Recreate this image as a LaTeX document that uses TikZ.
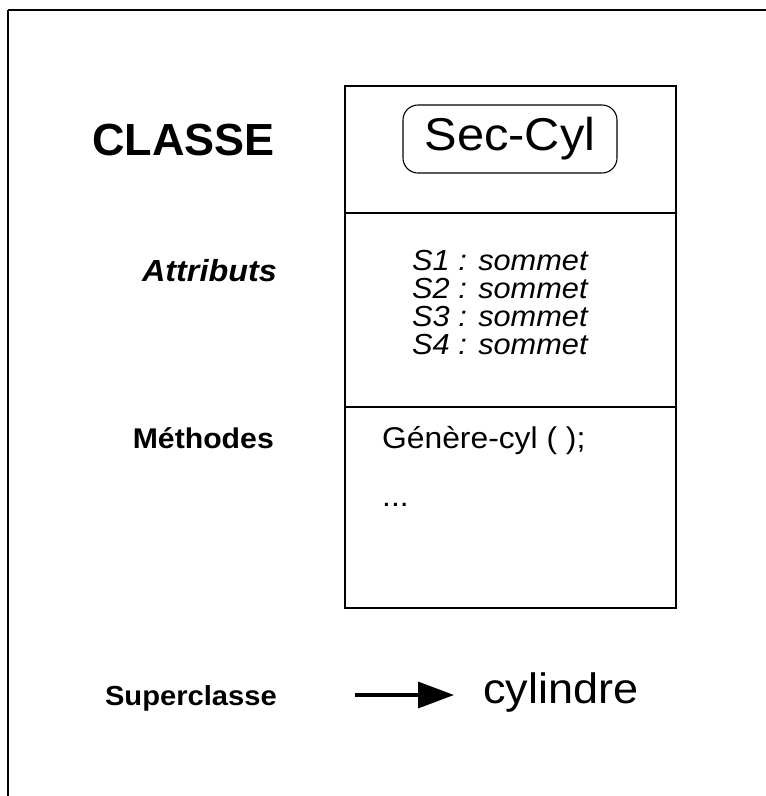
\documentclass[tikz,border=0pt]{standalone}
\usepackage{fontspec}
\setmainfont{Liberation Sans}
\newfontfamily\widesans[FakeStretch=1.06]{Liberation Sans}
\usetikzlibrary{arrows.meta}
\begin{document}
\begin{tikzpicture}[x=1pt,y=-1pt,
  rule/.style={line width=1.1pt},
  leftlabel/.style={inner sep=0pt, anchor=base east, font=\widesans\bfseries\fontsize{28.5}{32}\selectfont},
  member/.style={inner sep=0pt, anchor=base west, font=\widesans\fontsize{30}{34}\selectfont},
  attr/.style={inner sep=0pt, anchor=base west, font=\widesans\itshape\fontsize{29}{32}\selectfont},
  bigname/.style={inner sep=0pt, font=\widesans\fontsize{42.5}{48}\selectfont}]
\useasboundingbox (0,0) rectangle (766,796);
\fill[white] (0,0) rectangle (766,796);

% outer frame (only top and left edges inside the page)
\draw[rule] (8,10) -- (766,10);
\draw[rule] (8,10) -- (8,796);

% class box with its three compartments
\draw[rule] (345,86) rectangle (676,608);
\draw[rule] (345,213) -- (676,213);
\draw[rule] (345,407) -- (676,407);

% class name
\node[inner sep=0pt, anchor=base east, font=\bfseries\fontsize{45}{54}\selectfont] (classe) at (275,155) {CLASSE};
\node[rule, draw, rounded corners=15pt, minimum width=214pt, minimum height=68pt, inner sep=0pt] (nom) at (510,139) {};
\node[bigname, font=\widesans\fontsize{46}{52}\selectfont] (nomtxt) at (nom.center) {Sec-Cyl};

% attributes
\node[leftlabel, font=\widesans\bfseries\itshape\fontsize{30.5}{34}\selectfont] (attributs) at (277,281) {Attributs};
\node[attr] (s1) at (412,270) {S1 : sommet};
\node[attr] (s2) at (412,298) {S2 : sommet};
\node[attr] (s3) at (412,326) {S3 : sommet};
\node[attr] (s4) at (412,354) {S4 : sommet};

% methods
\node[leftlabel] (methodes) at (274,448) {Méthodes};
\node[member] (genere) at (382,448) {Génère-cyl ( );};
\node[member] (suite) at (382,506) {...};

% superclass
\node[leftlabel, font=\widesans\bfseries\fontsize{27.5}{32}\selectfont] (superclasse) at (277,705) {Superclasse};
\node[bigname, anchor=base west] (cylindre) at (483,703) {cylindre};
\coordinate (flecheA) at (355,695);
\coordinate (flecheB) at (454,695);
\draw[line width=3.5pt, -{Triangle[length=36pt,width=26pt]}] (flecheA) -- (flecheB);
\end{tikzpicture}
\end{document}
